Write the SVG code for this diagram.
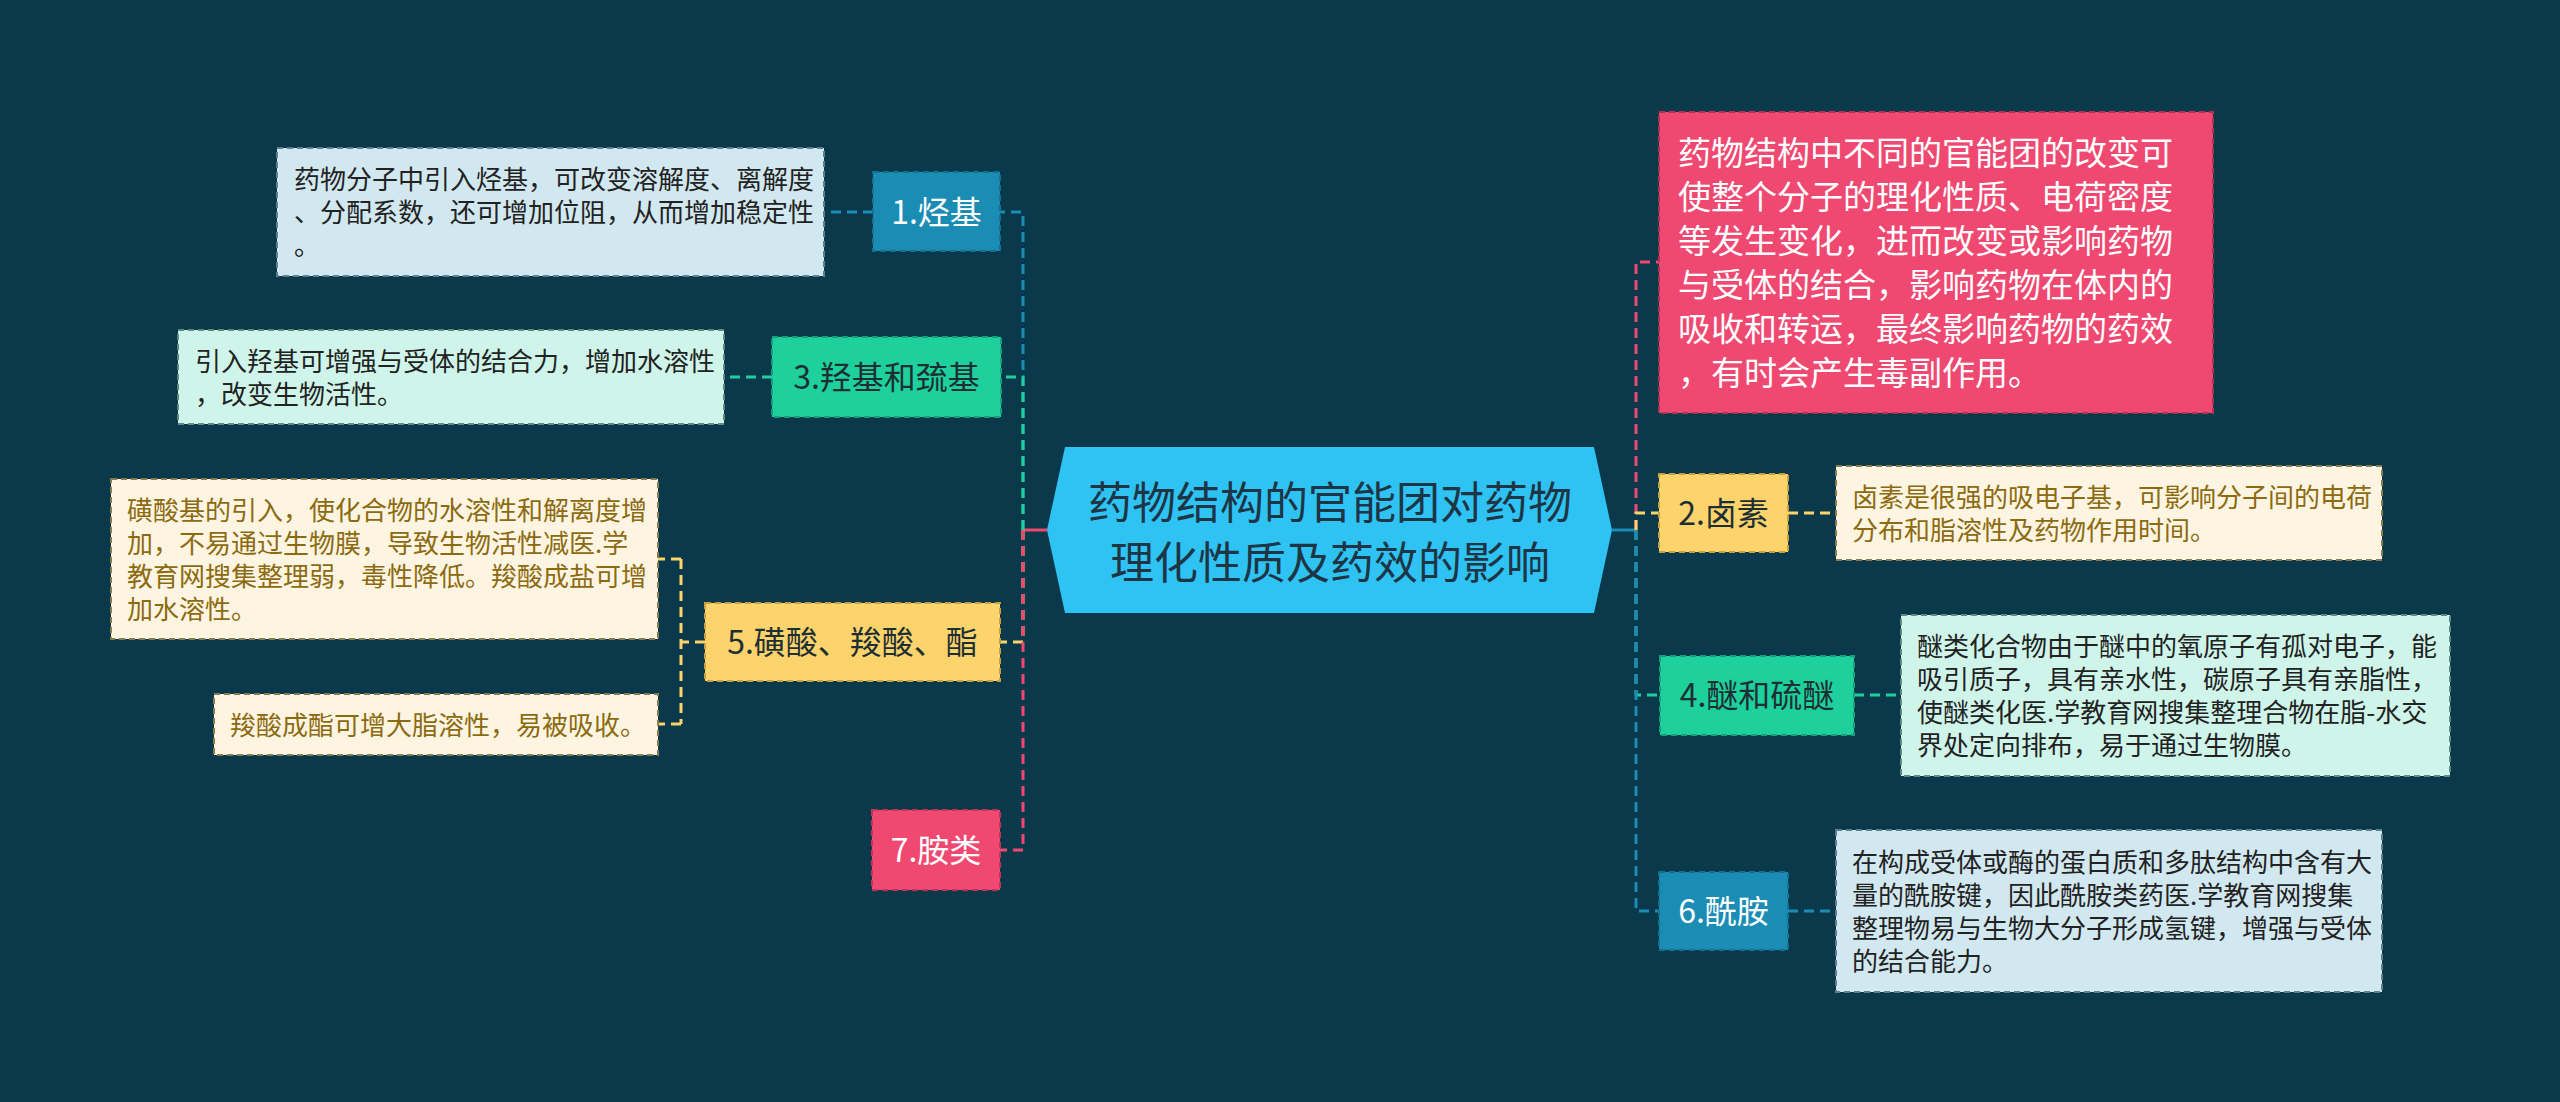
<svg xmlns="http://www.w3.org/2000/svg" width="2560" height="1102" viewBox="0 0 2560 1102">
<defs>
<style>
text{font-family:"Noto Sans CJK SC","Noto Sans",sans-serif}
.c{fill:none;stroke-width:3;stroke-dasharray:10 6}
.s{fill:none;stroke-width:3}
.bl{stroke:#1b8cb4}.gr{stroke:#1ed09c}.ye{stroke:#fdd36b}.pk{stroke:#ef4871}
.nb{stroke-width:2;stroke-dasharray:6 4}
.tb{font-size:26px}
.tn{font-size:32px;text-anchor:middle}
.w{fill:#ffffff}.d{fill:#1d2f33}.br{fill:#8c6a10}
</style>
</defs>
<rect width="2560" height="1102" fill="#0a394b"/>
<g id="connectors">
<path class="s pk" d="M1047,530 H1023" style="stroke-dasharray:none"/>
<path class="c bl" d="M1023,530 V212 H1000"/>
<path class="c gr" d="M1023,530 V377 H1001"/>
<path class="c ye" d="M1023,530 V642 H1000"/>
<path class="c pk" d="M1023,530 V850 H1000"/>
<path class="c bl" d="M873,212 H824"/>
<path class="c gr" d="M772,377 H724"/>
<path class="c ye" d="M705,642 H681"/>
<path class="c ye" d="M681,559 V724"/>
<path class="c ye" d="M681,559 H658"/>
<path class="c ye" d="M681,724 H658"/>
<path class="s bl" d="M1612,530 H1636"/>
<path class="c pk" d="M1636,530 V262 H1659"/>
<path class="c ye" d="M1636,530 V513 H1659"/>
<path class="c gr" d="M1636,530 V695 H1660"/>
<path class="c bl" d="M1636,530 V911 H1659"/>
<path class="c ye" d="M1788,513 H1836"/>
<path class="c gr" d="M1854,695 H1901"/>
<path class="c bl" d="M1788,911 H1836"/>
</g>
<g id="root">
<polygon points="1047,530 1065,447 1594,447 1612,530 1594,613 1065,613" fill="#2fc3f3"/>
<text x="1330" y="519" font-size="44" text-anchor="middle" fill="#1e3545">药物结构的官能团对药物</text>
<text x="1330" y="579" font-size="44" text-anchor="middle" fill="#1e3545">理化性质及药效的影响</text>
</g>
<g id="n1">
<rect x="873" y="172" width="127" height="79" fill="#1b8cb4" stroke="#14708f" class="nb"/>
<text class="tn w" x="936.5" y="224">1.烃基</text>
</g>
<g id="n1t">
<rect x="277" y="148" width="547" height="128" fill="#d2e8f0" stroke="#5f7f8a" class="nb"/>
<text class="tb" fill="#222" x="294" y="189">药物分子中引入烃基，可改变溶解度、离解度</text>
<text class="tb" fill="#222" x="294" y="222">、分配系数，还可增加位阻，从而增加稳定性</text>
<text class="tb" fill="#222" x="294" y="255">。</text>
</g>
<g id="n3">
<rect x="772" y="337" width="229" height="80" fill="#1ed09c" stroke="#14a07a" class="nb"/>
<text class="tn d" x="886.5" y="389">3.羟基和巯基</text>
</g>
<g id="n3t">
<rect x="178" y="330" width="546" height="94" fill="#cff5ea" stroke="#5f8a80" class="nb"/>
<text class="tb" fill="#222" x="195" y="370.5">引入羟基可增强与受体的结合力，增加水溶性</text>
<text class="tb" fill="#222" x="195" y="403.5">，改变生物活性。</text>
</g>
<g id="n5">
<rect x="705" y="603" width="295" height="78" fill="#fdd36b" stroke="#c9a040" class="nb"/>
<text class="tn d" x="852.5" y="654">5.磺酸、羧酸、酯</text>
</g>
<g id="n5a">
<rect x="111" y="479" width="547" height="160" fill="#fdf5e1" stroke="#8a7a50" class="nb"/>
<text class="tb br" x="127" y="519.5">磺酸基的引入，使化合物的水溶性和解离度增</text>
<text class="tb br" x="127" y="552.5">加，不易通过生物膜，导致生物活性减医.学</text>
<text class="tb br" x="127" y="585.5">教育网搜集整理弱，毒性降低。羧酸成盐可增</text>
<text class="tb br" x="127" y="618.5">加水溶性。</text>
</g>
<g id="n5b">
<rect x="214" y="694" width="444" height="61" fill="#fdf5e1" stroke="#8a7a50" class="nb"/>
<text class="tb br" x="230" y="734.5">羧酸成酯可增大脂溶性，易被吸收。</text>
</g>
<g id="n7">
<rect x="872" y="810" width="128" height="80" fill="#ef4871" stroke="#c23358" class="nb"/>
<text class="tn w" x="936" y="862">7.胺类</text>
</g>
<g id="nd">
<rect x="1659" y="112" width="554" height="301" fill="#ef4871" stroke="#b82f52" class="nb"/>
<text font-size="33" class="w" x="1678" y="165">药物结构中不同的官能团的改变可</text>
<text font-size="33" class="w" x="1678" y="209">使整个分子的理化性质、电荷密度</text>
<text font-size="33" class="w" x="1678" y="253">等发生变化，进而改变或影响药物</text>
<text font-size="33" class="w" x="1678" y="297">与受体的结合，影响药物在体内的</text>
<text font-size="33" class="w" x="1678" y="341">吸收和转运，最终影响药物的药效</text>
<text font-size="33" class="w" x="1678" y="385">，有时会产生毒副作用。</text>
</g>
<g id="n2">
<rect x="1659" y="474" width="129" height="78" fill="#fdd36b" stroke="#c9a040" class="nb"/>
<text class="tn d" x="1723.5" y="525">2.卤素</text>
</g>
<g id="n2t">
<rect x="1836" y="466" width="546" height="94" fill="#fdf5e1" stroke="#8a7a50" class="nb"/>
<text class="tb br" x="1852" y="506.5">卤素是很强的吸电子基，可影响分子间的电荷</text>
<text class="tb br" x="1852" y="539.5">分布和脂溶性及药物作用时间。</text>
</g>
<g id="n4">
<rect x="1660" y="656" width="194" height="79" fill="#1ed09c" stroke="#14a07a" class="nb"/>
<text class="tn d" x="1757" y="707">4.醚和硫醚</text>
</g>
<g id="n4t">
<rect x="1901" y="615" width="549" height="161" fill="#cff5ea" stroke="#5f8a80" class="nb"/>
<text class="tb" fill="#222" x="1917" y="656">醚类化合物由于醚中的氧原子有孤对电子，能</text>
<text class="tb" fill="#222" x="1917" y="689">吸引质子，具有亲水性，碳原子具有亲脂性，</text>
<text class="tb" fill="#222" x="1917" y="722">使醚类化医.学教育网搜集整理合物在脂-水交</text>
<text class="tb" fill="#222" x="1917" y="755">界处定向排布，易于通过生物膜。</text>
</g>
<g id="n6">
<rect x="1659" y="872" width="129" height="78" fill="#1b8cb4" stroke="#14708f" class="nb"/>
<text class="tn w" x="1723.5" y="923">6.酰胺</text>
</g>
<g id="n6t">
<rect x="1836" y="830" width="546" height="162" fill="#d2e8f0" stroke="#5f7f8a" class="nb"/>
<text class="tb" fill="#222" x="1852" y="871.5">在构成受体或酶的蛋白质和多肽结构中含有大</text>
<text class="tb" fill="#222" x="1852" y="904.5">量的酰胺键，因此酰胺类药医.学教育网搜集</text>
<text class="tb" fill="#222" x="1852" y="937.5">整理物易与生物大分子形成氢键，增强与受体</text>
<text class="tb" fill="#222" x="1852" y="970.5">的结合能力。</text>
</g>
</svg>
